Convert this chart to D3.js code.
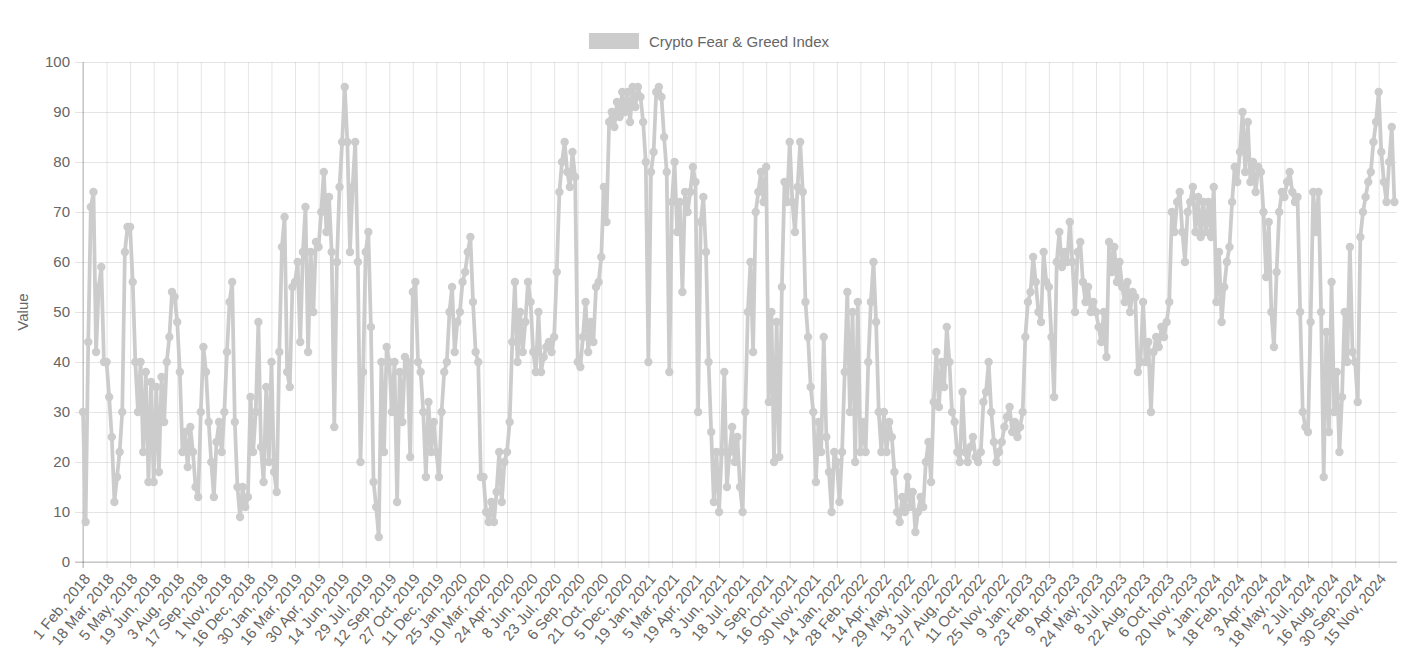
<!DOCTYPE html>
<html><head><meta charset="utf-8">
<script src="https://cdn.jsdelivr.net/npm/d3@7/dist/d3.min.js"></script>
<style>
body{margin:0;background:#fff}
svg{display:block}
text{font-family:"Liberation Sans",Arial,Helvetica,sans-serif;fill:#666}
</style>
</head><body>
<svg id="chart" width="1418" height="661"></svg>
<script>
const seriesName = "Crypto Fear & Greed Index";
const yTitle = "Value";
const sampleStep = 5;      // one reading every 5 daily points
const dayCount = 2511;     // daily points in the series
const tickEvery = 45;      // a date label every 45 points
const tickLabels = ["1 Feb, 2018","18 Mar, 2018","5 May, 2018","19 Jun, 2018","3 Aug, 2018","17 Sep, 2018","1 Nov, 2018","16 Dec, 2018",
"30 Jan, 2019","16 Mar, 2019","30 Apr, 2019","14 Jun, 2019","29 Jul, 2019","12 Sep, 2019","27 Oct, 2019","11 Dec, 2019",
"25 Jan, 2020","10 Mar, 2020","24 Apr, 2020","8 Jun, 2020","23 Jul, 2020","6 Sep, 2020","21 Oct, 2020","5 Dec, 2020",
"19 Jan, 2021","5 Mar, 2021","19 Apr, 2021","3 Jun, 2021","18 Jul, 2021","1 Sep, 2021","16 Oct, 2021","30 Nov, 2021",
"14 Jan, 2022","28 Feb, 2022","14 Apr, 2022","29 May, 2022","13 Jul, 2022","27 Aug, 2022","11 Oct, 2022","25 Nov, 2022",
"9 Jan, 2023","23 Feb, 2023","9 Apr, 2023","24 May, 2023","8 Jul, 2023","22 Aug, 2023","6 Oct, 2023","20 Nov, 2023",
"4 Jan, 2024","18 Feb, 2024","3 Apr, 2024","18 May, 2024","2 Jul, 2024","16 Aug, 2024","30 Sep, 2024","15 Nov, 2024"];
const yTicks = [0,10,20,30,40,50,60,70,80,90,100];
const fngValues = [
30,8,44,71,74,42,55,59,40,
40,33,25,12,17,22,30,62,67,
67,56,40,30,40,22,38,16,36,
16,35,18,37,28,40,45,54,53,
48,38,22,26,19,27,22,15,13,
30,43,38,28,20,13,24,28,22,
30,42,52,56,28,15,9,15,11,
13,33,22,30,48,23,16,35,20,
40,18,14,42,63,69,38,35,55,
56,60,44,62,71,42,62,50,64,
63,70,78,66,73,62,27,60,75,
84,95,84,62,75,84,60,20,38,
62,66,47,16,11,5,40,22,43,
40,30,40,12,38,28,41,40,21,
54,56,40,38,30,17,32,22,28,
22,17,30,38,40,50,55,42,48,
50,56,58,62,65,52,42,40,17,
17,10,8,12,8,14,22,12,20,
22,28,44,56,40,50,42,48,56,
52,42,38,50,38,41,43,44,42,
45,58,74,80,84,78,75,82,77,
40,39,45,52,42,48,44,55,56,
61,75,68,88,90,87,92,89,94,
90,94,88,95,91,95,93,88,80,
40,78,82,94,95,93,85,78,38,
72,80,66,72,54,74,70,74,79,
76,30,68,73,62,40,26,12,22,
10,22,38,15,22,27,20,25,15,
10,30,50,60,42,70,74,78,72,
79,32,50,20,48,21,55,76,72,
84,72,66,75,84,74,52,45,35,
30,16,28,22,45,25,18,10,22,
20,12,22,38,54,30,50,20,52,
22,28,22,40,52,60,48,30,22,
30,22,28,25,18,10,8,13,10,
17,11,14,6,10,13,11,20,24,
16,32,42,31,40,35,47,40,30,
28,22,20,34,22,20,23,25,21,
20,22,32,34,40,30,24,20,22,
24,27,29,31,26,28,25,27,30,
45,52,54,61,56,50,48,62,56,
55,45,33,60,66,59,62,60,68,
60,50,62,64,56,52,55,50,52,
50,47,44,50,41,64,58,63,56,
60,55,52,56,50,54,53,38,40,
52,40,44,30,42,45,43,47,45,
48,52,70,66,72,74,66,60,70,
72,75,66,73,65,72,66,72,65,
75,52,62,48,55,60,63,72,79,
76,82,90,78,88,76,80,74,79,
78,70,57,68,50,43,58,70,74,
73,76,78,74,72,73,50,30,27,
26,48,74,66,74,50,17,46,26,
56,30,38,22,33,50,40,63,42,
40,32,65,70,73,76,78,84,88,
94,82,76,72,80,87,72
];

const W = 1418, H = 661;
const m = {left: 83, right: 21, top: 62, bottom: 99};
const color = "#cccccc";
const fontSize = 15;

const svg = d3.select("#chart");
const x = d3.scaleLinear().domain([0, dayCount - 1]).range([m.left, W - m.right]);
const y = d3.scaleLinear().domain([0, 100]).range([H - m.bottom, m.top]);

const data = fngValues.map((v, i) => ({day: i * sampleStep, value: v}));
const tickData = tickLabels.map((t, i) => ({day: i * tickEvery, label: t}));

// y grid + axis
const yAxis = d3.axisLeft(y).tickValues(yTicks).tickSize(-(W - m.right - m.left)).tickPadding(5);
const gy = svg.append("g").attr("transform", `translate(${m.left},0)`).call(yAxis);
gy.select(".domain").remove();
gy.selectAll(".tick line").attr("stroke", "rgba(0,0,0,0.1)").attr("x1", -8);
gy.selectAll(".tick text").attr("font-size", fontSize).attr("fill", "#666").attr("x", -13)
  .attr("font-family", '"Liberation Sans",Arial,sans-serif');

// x grid + axis
const xAxis = d3.axisBottom(x).tickValues(tickData.map(d => d.day))
  .tickFormat((d, i) => tickLabels[i]).tickSize(-(H - m.bottom - m.top)).tickPadding(0);
const gx = svg.append("g").attr("transform", `translate(0,${H - m.bottom})`).call(xAxis);
gx.select(".domain").remove();
gx.selectAll(".tick line").attr("stroke", "rgba(0,0,0,0.1)").attr("y1", 6);
gx.selectAll(".tick text")
  .attr("font-size", fontSize).attr("fill", "#666")
  .attr("font-family", '"Liberation Sans",Arial,sans-serif')
  .attr("text-anchor", "end")
  .attr("transform", "translate(4,14) rotate(-50)")
  .attr("y", 0).attr("dy", "0.32em");

// axis lines
svg.append("line").attr("x1", m.left).attr("x2", m.left).attr("y1", m.top).attr("y2", H - m.bottom + 6)
  .attr("stroke", "rgba(0,0,0,0.25)");
svg.append("line").attr("x1", m.left - 8).attr("x2", W - m.right).attr("y1", H - m.bottom).attr("y2", H - m.bottom)
  .attr("stroke", "rgba(0,0,0,0.25)");

// y title
svg.append("text").attr("transform", `translate(28,${(m.top + H - m.bottom) / 2}) rotate(-90)`)
  .attr("text-anchor", "middle").attr("font-size", fontSize).text(yTitle);

// series
const line = d3.line().x(d => x(d.day)).y(d => y(d.value));
svg.append("path").datum(data).attr("d", line).attr("fill", "none")
  .attr("stroke", color).attr("stroke-width", 3.75).attr("stroke-linejoin", "round");
svg.append("g").selectAll("circle").data(data).join("circle")
  .attr("cx", d => x(d.day)).attr("cy", d => y(d.value)).attr("r", 4.2).attr("fill", color);

// legend
const lg = svg.append("g");
const lt = lg.append("text").attr("font-size", fontSize).attr("y", 47).text(seriesName);
const tw = lt.node().getComputedTextLength();
const boxW = 50, gap = 10;
const total = boxW + gap + tw;
const lx = W / 2 - total / 2;
lg.insert("rect", "text").attr("x", lx).attr("y", 33).attr("width", boxW).attr("height", 16).attr("fill", color);
lt.attr("x", lx + boxW + gap);
</script>
</body></html>
